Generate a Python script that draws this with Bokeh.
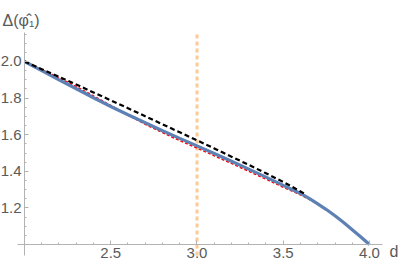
from bokeh.plotting import figure
from bokeh.models import FixedTicker, Label, Range1d, PrintfTickFormatter
from bokeh.embed import file_html
from bokeh.resources import INLINE

# ---- data ----
d_vals = [2.0, 2.1, 2.2, 2.3, 2.4, 2.5, 2.6, 2.7, 2.8, 2.9, 3.0,
          3.1, 3.2, 3.3, 3.4, 3.5, 3.6, 3.65, 3.7, 3.75, 3.8, 3.85, 3.9, 3.95, 4.0]
delta_exact = [2.000, 1.950, 1.900, 1.851, 1.802, 1.754, 1.709, 1.665, 1.622, 1.580, 1.539,
               1.497, 1.455, 1.412, 1.368, 1.323, 1.279, 1.252, 1.222, 1.191, 1.157, 1.120,
               1.081, 1.041, 1.000]
delta_red = [2.000, 1.956, 1.911, 1.863, 1.812, 1.760, 1.707, 1.657, 1.611, 1.568, 1.527,
             1.485, 1.443, 1.400, 1.357, 1.313, 1.271, 1.247, 1.220, 1.190, 1.157, 1.120,
             1.081, 1.041, 1.000]
d_black = [2.0, 2.1, 2.2, 2.3, 2.4, 2.5, 2.6, 2.7, 2.8, 2.9, 3.0,
           3.1, 3.2, 3.3, 3.4, 3.5, 3.6, 3.63]
delta_black = [2.000, 1.958, 1.916, 1.874, 1.831, 1.788, 1.745, 1.701, 1.657, 1.613, 1.569,
               1.525, 1.480, 1.435, 1.389, 1.342, 1.290, 1.274]
d_marker = 3.0

x_major = [2.5, 3.0, 3.5, 4.0]
x_minor = [2.0, 2.1, 2.2, 2.3, 2.4, 2.6, 2.7, 2.8, 2.9, 3.1, 3.2, 3.3, 3.4,
           3.6, 3.7, 3.8, 3.9, 4.0]
y_major = [1.2, 1.4, 1.6, 1.8, 2.0]
y_minor = [1.0, 1.05, 1.1, 1.15, 1.25, 1.3, 1.35, 1.45, 1.5, 1.55, 1.65, 1.7, 1.75,
           1.85, 1.9, 1.95, 2.05, 2.1, 2.15]
x_axis_at = 1.0
y_axis_at = 2.0
plot_x_span = (1.96, 4.074)
plot_y_span = (0.94, 2.16)

FONT = "Liberation Sans"
AXIS_COLOR = "#b3b3b3"
LABEL_COLOR = "#5a5a5a"

p = figure(width=400, height=268, output_backend="svg", toolbar_location=None,
           x_range=Range1d(1.8609, 4.1797), y_range=Range1d(0.8689, 2.3333),
           min_border_left=0, min_border_right=0, min_border_top=0, min_border_bottom=0)
p.grid.visible = False
p.outline_line_color = None
p.background_fill_color = "white"

p.xaxis.fixed_location = x_axis_at
p.yaxis.fixed_location = y_axis_at
p.xaxis.bounds = plot_x_span
p.yaxis.bounds = plot_y_span
p.xaxis.ticker = FixedTicker(ticks=x_major, minor_ticks=x_minor)
p.yaxis.ticker = FixedTicker(ticks=y_major, minor_ticks=y_minor)
for ax in (p.xaxis, p.yaxis):
    ax.formatter = PrintfTickFormatter(format="%.1f")
    ax.axis_line_color = AXIS_COLOR
    ax.major_tick_line_color = AXIS_COLOR
    ax.minor_tick_line_color = AXIS_COLOR
    ax.major_tick_in = 4
    ax.major_tick_out = 0
    ax.minor_tick_in = 2
    ax.minor_tick_out = 0
    ax.major_label_text_font = FONT
    ax.major_label_text_font_size = "15px"
    ax.major_label_text_color = LABEL_COLOR
p.xaxis.major_label_standoff = 3
p.yaxis.major_label_standoff = 3

p.line([d_marker, d_marker], list(plot_y_span), line_color="#FFC995",
       line_width=3, line_dash="4 3")

p.line(d_vals, delta_red, line_color="#FF0000", line_width=1.5, line_dash="3 2")
p.line(d_vals, delta_exact, line_color="#5E81B5", line_width=3.2)
p.line(d_black, delta_black, line_color="black", line_width=2.2, line_dash="5 3")

p.add_layout(Label(x=1.8725, y=2.224, text="Δ(φ̂₁)", text_font=FONT,
                   text_font_size="16px", text_color=LABEL_COLOR,
                   text_baseline="alphabetic"))
p.add_layout(Label(x=4.116, y=0.962, text="d", text_font=FONT, text_font_size="16px",
                   text_color=LABEL_COLOR, text_baseline="alphabetic"))

open("out.html", "w").write(file_html(p, INLINE))
